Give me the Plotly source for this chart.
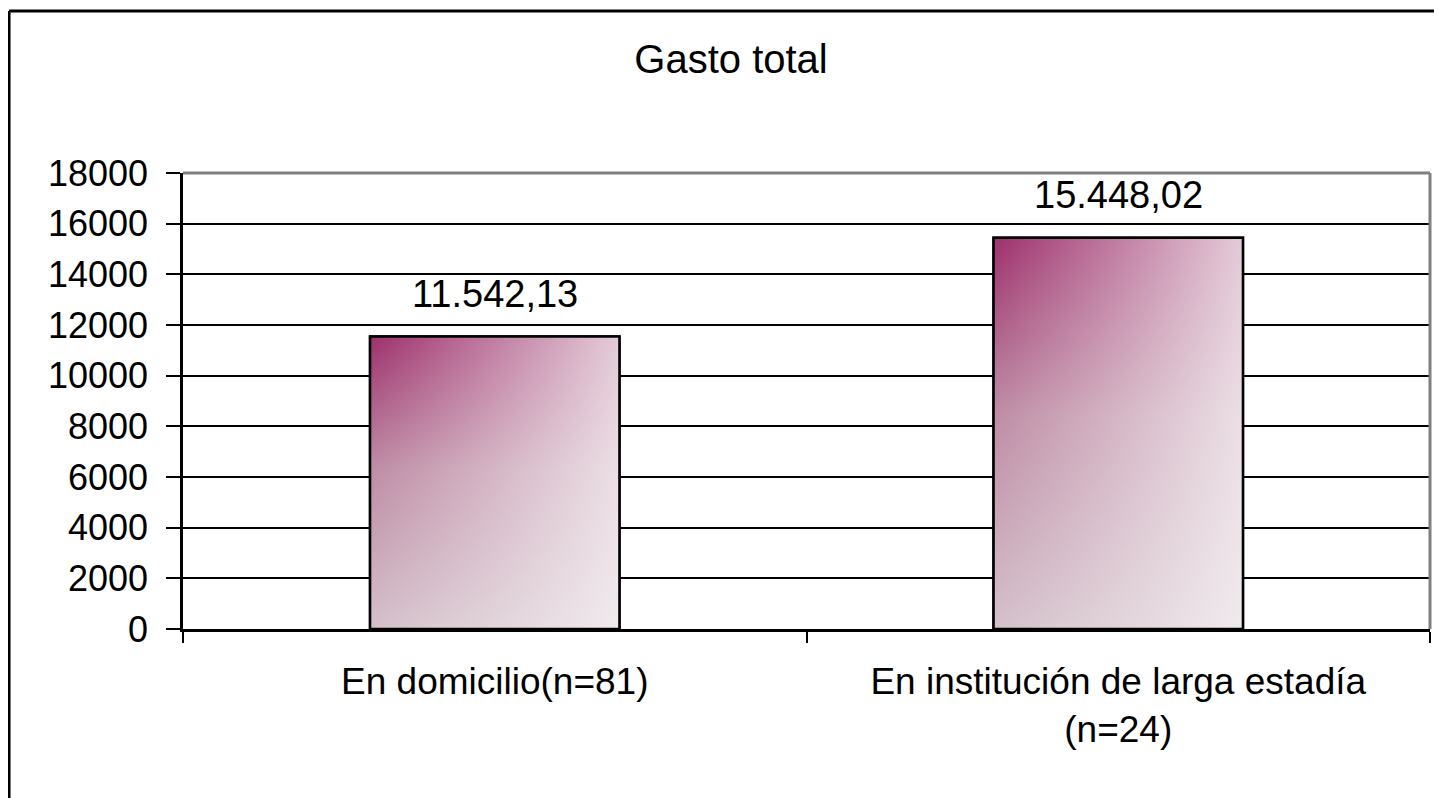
import plotly.graph_objects as go

# ---- data ----
categories = ["En domicilio(n=81)", "En institución de larga estadía<br>(n=24)"]
values = [11542.13, 15448.02]
y_ticks = [0, 2000, 4000, 6000, 8000, 10000, 12000, 14000, 16000, 18000]
title_text = "Gasto total"

BAR_W = 0.4
FONT = "Liberation Sans, Arial, sans-serif"
DARK = "rgb(158,48,108)"
LIGHT_BOTTOM = "rgb(212,192,202)"


def es_fmt(v):
    s = f"{v:,.2f}"
    return s.replace(",", "X").replace(".", ",").replace("X", ".")


pos = list(range(len(categories)))

fig = go.Figure()

# canonical bars (outline)
fig.add_trace(go.Bar(
    x=pos, y=values, width=BAR_W,
    marker=dict(color="rgba(0,0,0,0)", line=dict(color="black", width=2.5)),
    hoverinfo="skip", showlegend=False,
))

# gradient fills derived from the same data
for i, v in zip(pos, values):
    xs = [i - BAR_W / 2, i - BAR_W / 2, i + BAR_W / 2, i + BAR_W / 2, i - BAR_W / 2]
    ys = [0, v, v, 0, 0]
    fig.add_trace(go.Scatter(
        x=xs, y=ys, mode="lines", fill="toself",
        fillgradient=dict(type="vertical",
                          colorscale=[[0, LIGHT_BOTTOM], [0.55, "rgb(190,140,165)"], [1, DARK]],
                          start=0, stop=v),
        line=dict(width=0, color="rgba(0,0,0,0)"),
        hoverinfo="skip", showlegend=False,
    ))
    fig.add_trace(go.Scatter(
        x=xs, y=ys, mode="lines", fill="toself",
        fillgradient=dict(type="horizontal",
                          colorscale=[[0, "rgba(248,246,247,0)"], [1, "rgba(248,246,247,0.78)"]],
                          start=i - BAR_W / 2, stop=i + BAR_W / 2),
        line=dict(width=2.5, color="black"),
        hoverinfo="skip", showlegend=False,
    ))

# data labels
for i, v in zip(pos, values):
    fig.add_annotation(x=i, y=v, text=es_fmt(v), showarrow=False,
                       yanchor="bottom", yshift=20,
                       font=dict(family=FONT, size=38, color="black"))

shapes = [
    # outer chart border (left & top visible)
    dict(type="line", xref="paper", yref="paper", x0=-0.1395, x1=-0.1395, y0=-1, y1=1.3553,
         line=dict(color="black", width=3)),
    dict(type="line", xref="paper", yref="paper", x0=-0.1395, x1=1.5, y0=1.3553, y1=1.3553,
         line=dict(color="black", width=3)),
    # plot frame top & right (gray)
    dict(type="line", xref="paper", yref="paper", x0=0, x1=1, y0=1, y1=1,
         line=dict(color="#808080", width=3), layer="above"),
    dict(type="line", xref="paper", yref="paper", x0=1, x1=1, y0=0, y1=1,
         line=dict(color="#808080", width=3), layer="above"),
]

fig.update_layout(
    width=1434, height=790,
    margin=dict(l=175, r=12, t=165, b=169),
    paper_bgcolor="white", plot_bgcolor="white",
    font=dict(family=FONT, size=36, color="black"),
    title=dict(text=title_text, x=0.5042, xanchor="center", y=0.935, yanchor="middle",
               font=dict(family=FONT, size=40, color="black")),
    showlegend=False,
    shapes=shapes,
    xaxis=dict(
        range=[-0.5, 1.5], tickmode="array", tickvals=pos, ticktext=categories,
        ticks="", showgrid=False, zeroline=False,
        showline=True, linecolor="black", linewidth=2.5,
        ticklabelstandoff=18,
        tickfont=dict(family=FONT, size=37, color="black"),
        minor=dict(tickmode="array", tickvals=[-0.5, 0.5, 1.5], ticks="outside",
                   ticklen=11, tickwidth=2, tickcolor="black", showgrid=False),
        fixedrange=True,
    ),
    yaxis=dict(
        range=[0, 18000], tickmode="array", tickvals=y_ticks, tickformat="d",
        ticks="outside", ticklen=14, tickwidth=2, tickcolor="black",
        showgrid=True, gridcolor="black", gridwidth=2,
        zeroline=False, showline=True, linecolor="black", linewidth=2.5,
        ticklabelstandoff=11,
        tickfont=dict(family=FONT, size=36, color="black"),
        fixedrange=True,
    ),
)

fig.write_html("out.html")
